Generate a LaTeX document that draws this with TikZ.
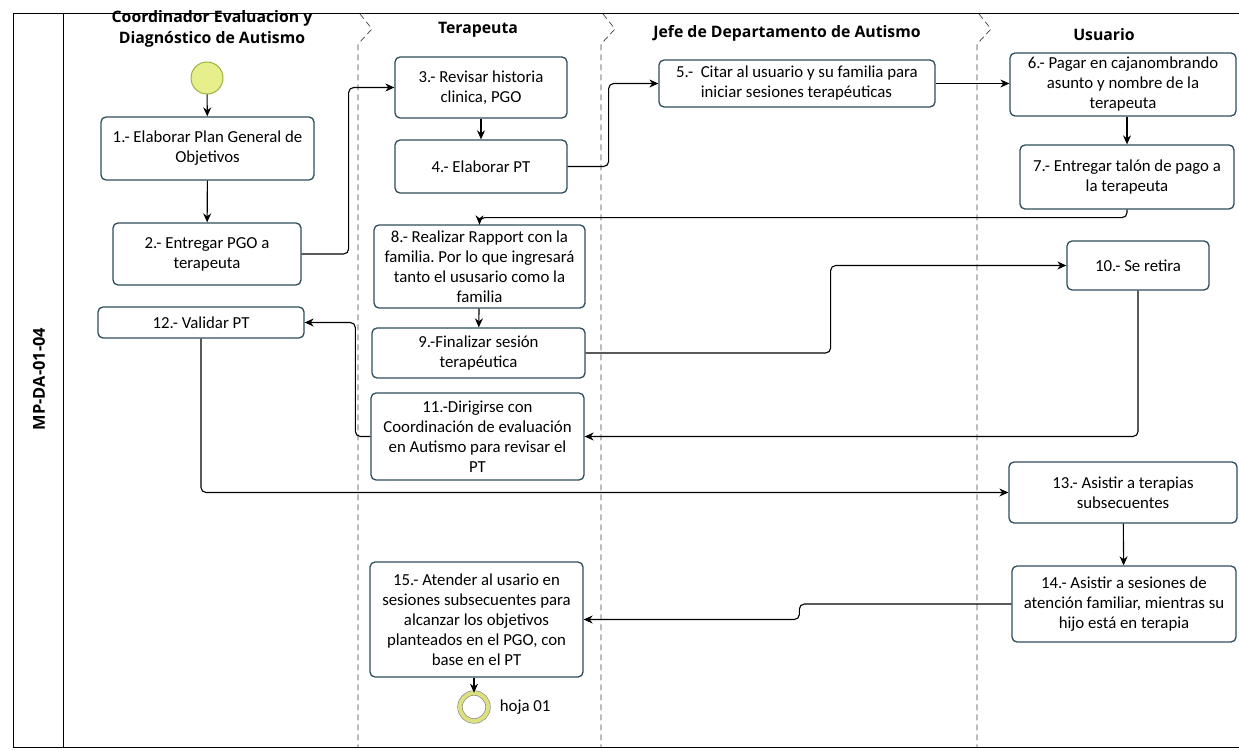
\documentclass[tikz,border=0pt]{standalone}
\usepackage{fontspec}
\setmainfont{Carlito}
\newfontfamily\headfont{Open Sans}
\usetikzlibrary{arrows.meta,positioning,calc}
\definecolor{boxline}{HTML}{2E4D5C}
\definecolor{startfill}{HTML}{E6EF8C}
\definecolor{startline}{HTML}{9DB23F}
\definecolor{endring}{HTML}{DCE07E}
\frenchspacing

\begin{document}
\begin{tikzpicture}[x=1pt,y=-1pt,
	box/.style={draw=boxline, line width=1.3pt, rounded corners=5pt, fill=white, align=center, inner sep=0pt, font=\fontsize{16.8}{20}\selectfont},
	flow/.style={draw, line width=1.1pt, rounded corners=5pt, -{Stealth[length=9pt,width=8pt]}},
	lane/.style={line width=0.7pt, dash pattern=on 6pt off 4pt, black!75},
	head/.style={font=\headfont\bfseries\fontsize{15.8}{21}\selectfont, align=center}]
	\useasboundingbox (0,0) rectangle (1239,751);
	\draw[line width=1pt] (1239,14) -- (13,14) -- (13,747) -- (1239,747);
	\draw[line width=1pt] (63,14) -- (63,747);
	\node[head, rotate=90, font=\headfont\bfseries\fontsize{16.4}{18}\selectfont] (proc) at (39,379) {MP-DA-01-04};
	\draw[lane] (360,14) -- (372,29) -- (358,44) -- (358,747);
	\draw[lane] (603,14) -- (615,29) -- (601,44) -- (601,747);
	\draw[lane] (979,14) -- (991,29) -- (977,44) -- (977,747);
	\node[head] (h1) at (212,29) {Coordinador Evaluacion y\\Diagnóstico de Autismo};
	\node[head] (h2) at (478,30) {Terapeuta};
	\node[head] (h3) at (787,33) {Jefe de Departamento de Autismo};
	\node[head] (h4) at (1104,35) {Usuario};

	\node[circle, draw=startline, line width=1pt, fill=startfill, minimum size=32pt] (start) at (207,78) {};
	\node[box, minimum width=213pt, minimum height=63pt] (b1) at (207.5,148.5) {1.- Elaborar Plan General de\\Objetivos};
	\node[box, minimum width=188pt, minimum height=62pt] (b2) at (207,254) {2.- Entregar PGO a\\terapeuta};
	\node[box, minimum width=206pt, minimum height=31pt] (b12) at (201,322.5) {12.- Validar PT};
	\node[box, minimum width=172pt, minimum height=61pt] (b3) at (481,87.5) {3.- Revisar historia\\clinica, PGO};
	\node[box, minimum width=172pt, minimum height=53pt] (b4) at (481,166.5) {4.- Elaborar PT};
	\node[box, minimum width=211pt, minimum height=83pt] (b8) at (479.5,266.5) {8.- Realizar Rapport con la\\familia. Por lo que ingresará\\tanto el ususario como la\\familia};
	\node[box, minimum width=213pt, minimum height=50pt] (b9) at (478.5,353) {9.-Finalizar sesión\\terapéutica};
	\node[box, minimum width=213pt, minimum height=87pt] (b11) at (477.5,436.5) {11.-Dirigirse con\\Coordinación de evaluación\\en Autismo para revisar el\\PT};
	\node[box, minimum width=213pt, minimum height=115pt] (b15) at (476.5,619.5) {15.- Atender al usario en\\sesiones subsecuentes para\\alcanzar los objetivos\\planteados en el PGO, con\\base en el PT};
	\node[circle, draw=gray, double=endring, double distance=4pt, line width=0.6pt, fill=white, minimum size=28pt] (end) at (474,707) {};
	\node[right=8pt of end, font=\fontsize{16.8}{20}\selectfont] (hoja) {hoja 01};
	\node[box, align=left, minimum width=276pt, minimum height=47pt] (b5) at (797,83.5) {5.-\ \ Citar al usuario y su familia para\\\phantom{5.-\ \ }iniciar sesiones terapéuticas};
	\node[box, minimum width=226pt, minimum height=63pt] (b6) at (1123,84.5) {6.- Pagar en cajanombrando\\asunto y nombre de la\\terapeuta};
	\node[box, minimum width=214pt, minimum height=64pt] (b7) at (1127,177) {7.- Entregar talón de pago a\\la terapeuta};
	\node[box, minimum width=142pt, minimum height=49pt] (b10) at (1138,265.5) {10.- Se retira};
	\node[box, minimum width=228pt, minimum height=61pt] (b13) at (1123,492.5) {13.- Asistir a terapias\\subsecuentes};
	\node[box, minimum width=224pt, minimum height=76pt] (b14) at (1124,604) {14.- Asistir a sesiones de\\atención familiar, mientras su\\hijo está en terapia};

	\draw[flow] (start) -- (b1);
	\draw[flow] (b1) -- (b2);
	\draw[flow] (b2.east) -- ++(47,0) |- (b3.west);
	\draw[flow] (b3) -- (b4);
	\draw[flow] (b4.east) -- ++(41,0) |- (b5.west);
	\draw[flow] (b5.east) -- (b6.west |- b5.east);
	\draw[flow] (b6.south -| b7) -- (b7.north);
	\draw[flow] (b7.south) -- ++(0,8) -| (b8.north);
	\draw[flow] (b8) -- (b9);
	\draw[flow] (b9.east) -- ++(245,0) |- (b10.west);
	\draw[flow] (b10.south) |- (b11.east);
	\draw[flow] (b11.west) -- ++(-15,0) |- (b12.east);
	\draw[flow] (b12.south) |- (b13.west);
	\draw[flow] (b13) -- (b14);
	\draw[flow] (b14.west) -- ++(-212,0) |- (b15.east);
	\draw[flow] (end |- b15.south) -- (end.north);
\end{tikzpicture}
\end{document}
